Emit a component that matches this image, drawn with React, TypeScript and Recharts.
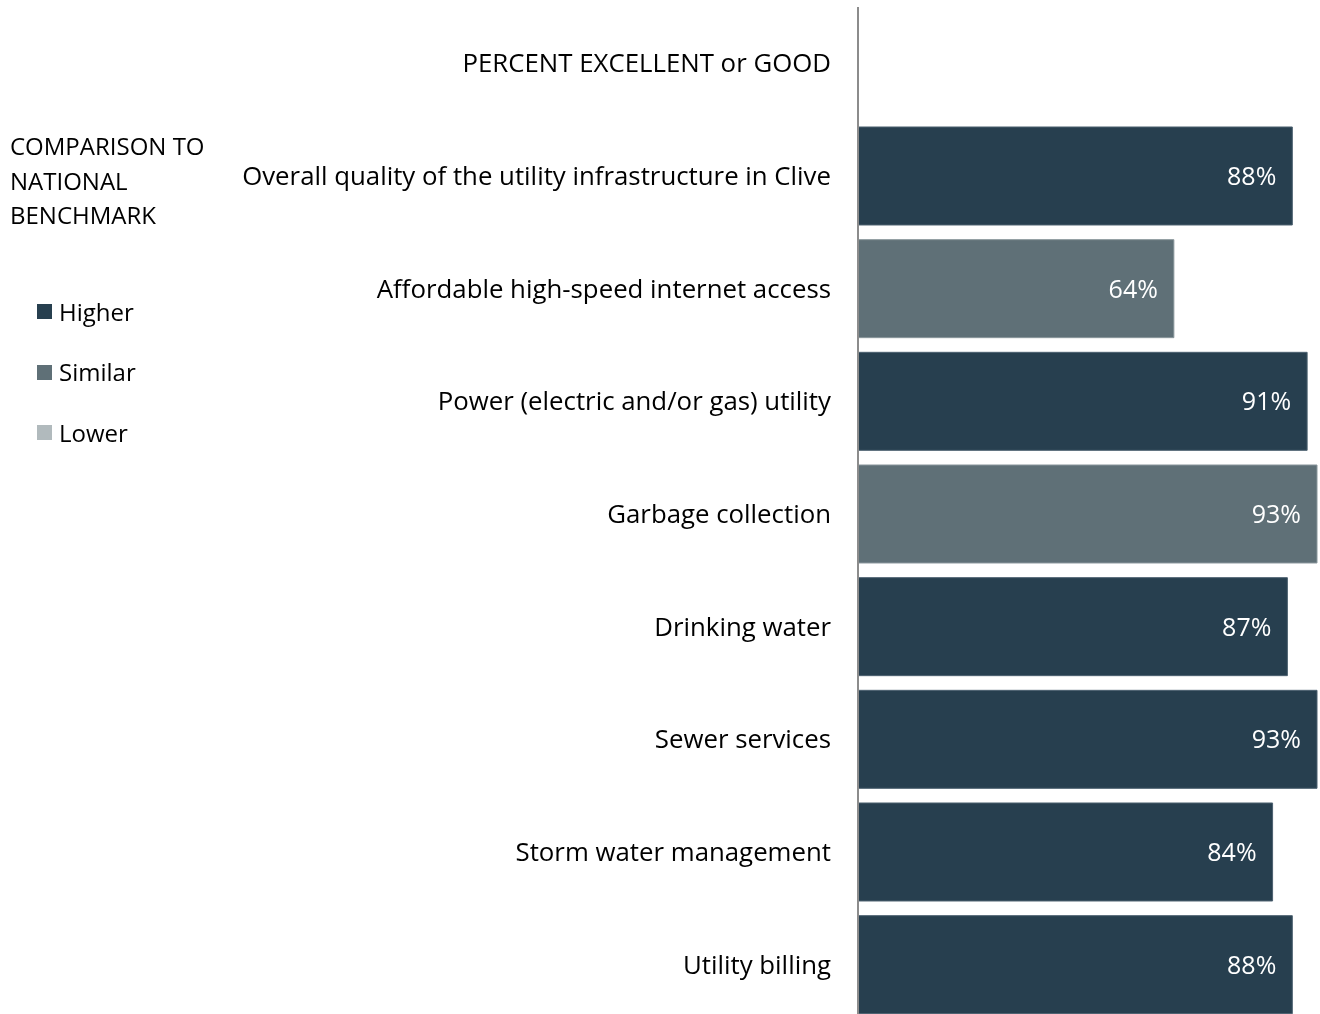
import React from "react";
import { BarChart, Bar, XAxis, YAxis, Cell, LabelList } from "recharts";

const categories = [
  "PERCENT EXCELLENT or GOOD",
  "Overall quality of the utility infrastructure in Clive",
  "Affordable high-speed internet access",
  "Power (electric and/or gas) utility",
  "Garbage collection",
  "Drinking water",
  "Sewer services",
  "Storm water management",
  "Utility billing",
];
const values: (number | null)[] = [null, 88, 64, 91, 93, 87, 93, 84, 88];
const benchmark: (string | null)[] = [null, "Higher", "Similar", "Higher", "Similar", "Higher", "Higher", "Higher", "Higher"];
const legendTitle = ["COMPARISON TO", "NATIONAL", "BENCHMARK"];
const legendItems = ["Higher", "Similar", "Lower"];

const COLORS: Record<string, string> = { Higher: "#273F4F", Similar: "#5F7077", Lower: "#B1BABD" };
const STROKES: Record<string, string> = { Higher: "#4d6170", Similar: "#8a979c", Lower: "#c8cfd1" };

const FONT = "'Open Sans', sans-serif";

const data = categories.map((name, i) => ({ name, value: values[i], bench: benchmark[i] }));

export default function App() {
  return (
    <div style={{ position: "fixed", left: 0, top: 0, width: 1320, height: 1021, fontFamily: FONT }}>
      <BarChart
        width={1320}
        height={1021}
        data={data}
        layout="vertical"
        margin={{ top: 7, right: 3, left: 0, bottom: 0 }}
        barCategoryGap="6.5%"
      >
        <XAxis type="number" domain={[0, 93]} hide />
        <YAxis
          type="category"
          dataKey="name"
          width={858}
          tickLine={false}
          tickSize={0}
          tickMargin={27}
          axisLine={{ stroke: "#8c8c8c", strokeWidth: 2 }}
          tick={{ fill: "#000", fontSize: 25.8, fontFamily: FONT }}
          interval={0}
        />
        <Bar dataKey="value" isAnimationActive={false}>
          {data.map((d, i) => (
            <Cell key={i} fill={d.bench ? COLORS[d.bench] : "none"} stroke={d.bench ? STROKES[d.bench] : "none"} strokeWidth={1} />
          ))}
          <LabelList
            dataKey="value"
            position="insideRight"
            offset={16}
            fill="#fff"
            style={{ fontSize: 25, fontFamily: FONT }}
            formatter={(v: any) => (v == null ? "" : `${v}%`)}
          />
        </Bar>
      </BarChart>
      <div style={{ position: "absolute", left: 10, top: 129, fontSize: 24, color: "#000", lineHeight: "34.5px" }}>
        {legendTitle.map((t) => (
          <div key={t}>{t}</div>
        ))}
        <div style={{ marginTop: 49 }}>
          {legendItems.map((it) => (
            <div key={it} style={{ display: "flex", alignItems: "center", height: 60.5, marginLeft: 27 }}>
              <span style={{ width: 15, height: 15, background: COLORS[it], display: "inline-block", marginRight: 7 }} />
              <span>{it}</span>
            </div>
          ))}
        </div>
      </div>
    </div>
  );
}
